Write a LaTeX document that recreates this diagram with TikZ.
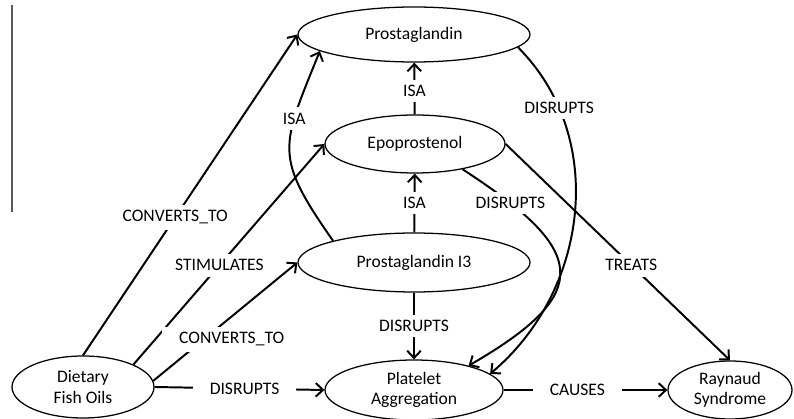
\documentclass[tikz,border=0pt]{standalone}
\usepackage{fontspec}
\setmainfont{Carlito}
\usetikzlibrary{shapes.geometric,arrows.meta}

\begin{document}
\begin{tikzpicture}[
    concept/.style={ellipse,draw,line width=0.9pt,inner sep=0pt,align=center,
      font=\fontsize{12.5}{14.5}\selectfont},
    rel/.style={fill=white,inner xsep=12pt,inner ysep=4pt,
      font=\fontsize{12.5}{14.5}\selectfont},
    >={Straight Barb[length=1.8mm,width=3.4mm]}]
  \useasboundingbox (0,0) rectangle (19.85,10.475);
  \draw[gray!70!black,line width=0.8pt] (0.3,10.35) -- (0.3,5.175);
  \draw
    (10.35,9.6125) node[concept,minimum width=5.8cm,minimum height=1.375cm] (prost){Prostaglandin}
    (10.375,6.875) node[concept,minimum width=4.5cm,minimum height=1.45cm] (epo){Epoprostenol}
    (10.35,3.9125) node[concept,minimum width=5.8cm,minimum height=1.475cm] (pi3){Prostaglandin I3}
    (10.35,0.725) node[concept,minimum width=4.45cm,minimum height=1.5cm] (plat){Platelet\\Aggregation}
    (2.075,0.8) node[concept,minimum width=3.55cm,minimum height=1.55cm] (fish){Dietary\\Fish Oils}
    (18.25,0.725) node[concept,minimum width=3.1cm,minimum height=1.45cm] (ray){Raynaud\\Syndrome};
  \begin{scope}[->,line width=1.4pt]
    \draw (fish.north) to node[rel,pos=0.43]{CONVERTS\_TO} (prost.west);
    \draw (fish.24) to node[rel,pos=0.45]{STIMULATES} (epo.west);
    \draw (fish.5) to node[rel,pos=0.35,xshift=0.7cm]{CONVERTS\_TO} (pi3.west);
    \draw (fish.east) to node[rel,pos=0.53]{DISRUPTS} (plat.west);
    \draw (pi3) to node[rel]{DISRUPTS} (plat);
    \draw (pi3) to node[rel]{ISA} (epo);
    \draw (epo) to node[rel,pos=0.45]{ISA} (prost);
    \draw (pi3.165) to[out=125,in=-112,looseness=1.4] node[rel,pos=0.7]{ISA} (prost.190);
    \draw (prost.-7) to[out=-45,in=40] node[rel,pos=0.2]{DISRUPTS} (plat.12);
    \draw (epo.-28) to[out=-33,in=30,looseness=1.92] node[rel,pos=0.15]{DISRUPTS} (plat.24);
    \draw (epo.east) to node[rel,pos=0.56]{TREATS} (ray.north);
    \draw (plat) to node[rel,pos=0.45]{CAUSES} (ray);
  \end{scope}
\end{tikzpicture}
\end{document}
